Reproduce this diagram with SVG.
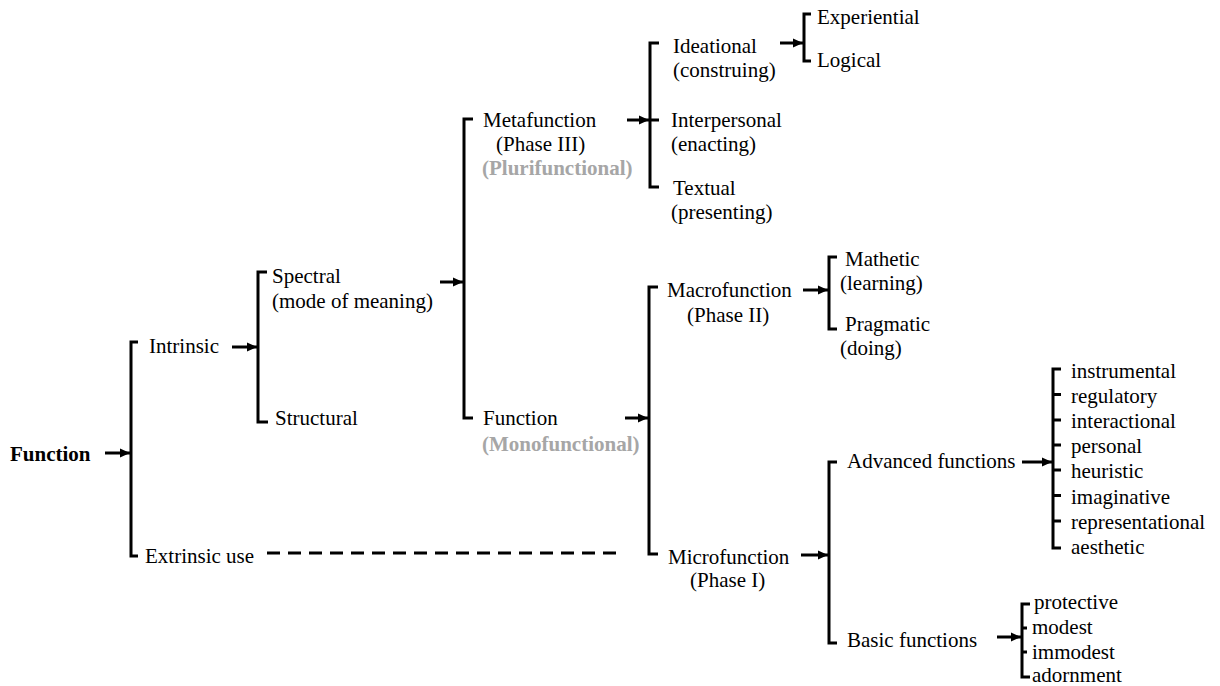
<svg xmlns="http://www.w3.org/2000/svg" width="1220" height="686" viewBox="0 0 1220 686" font-family="'Liberation Serif', 'DejaVu Serif', serif">
  <style>
    text { font-family: 'Liberation Serif', 'DejaVu Serif', serif; font-size: 21px; fill: #000; }
    .bold { font-weight: bold; }
    .gray { fill: #a6a6a6; font-weight: bold; }
    .br { fill: none; stroke: #000; stroke-width: 3; stroke-linejoin: miter; stroke-linecap: butt; }
    .ar { fill: none; stroke: #000; stroke-width: 3; marker-end: url(#head); }
    .dash { fill: none; stroke: #000; stroke-width: 3; stroke-dasharray: 13 8; }
  </style>
  <defs>
    <marker id="head" markerUnits="userSpaceOnUse" markerWidth="12" markerHeight="12" refX="10" refY="6" orient="auto">
      <path d="M0,1.5 L10,6 L0,10.5 Z" fill="#000"/>
    </marker>
  </defs>
  <rect width="1220" height="686" fill="#fff"/>

  <!-- brackets and arrows -->
  <g id="connectors">
    <!-- root -->
    <line class="ar" x1="105" y1="453" x2="130" y2="453"/>
    <path class="br" d="M138,342 H131 V556 H138"/>
    <!-- intrinsic -->
    <line class="ar" x1="232" y1="347" x2="257" y2="347"/>
    <path class="br" d="M267,272 H258 V422 H268"/>
    <!-- spectral -->
    <line class="ar" x1="440" y1="282" x2="463" y2="282"/>
    <path class="br" d="M473,119 H464 V418 H473"/>
    <!-- metafunction -->
    <line class="ar" x1="627" y1="120" x2="649" y2="120"/>
    <path class="br" d="M659,43 H650 V187 H659 M650,120 H659"/>
    <!-- ideational -->
    <line class="ar" x1="780" y1="43" x2="803" y2="43"/>
    <path class="br" d="M811,14 H804 V61 H811"/>
    <!-- function (monofunctional) -->
    <line class="ar" x1="625" y1="418" x2="648" y2="418"/>
    <path class="br" d="M658,287 H649 V554 H658"/>
    <!-- macrofunction -->
    <line class="ar" x1="803" y1="290" x2="828" y2="290"/>
    <path class="br" d="M837,257 H829 V329 H837"/>
    <!-- microfunction -->
    <line class="ar" x1="801" y1="555" x2="828" y2="555"/>
    <path class="br" d="M837,462 H829 V643 H837"/>
    <!-- advanced functions -->
    <line class="ar" x1="1022" y1="462" x2="1052" y2="462"/>
    <path class="br" d="M1061,369 H1053 V548 H1061 M1053,394.5 H1061 M1053,420 H1061 M1053,445 H1061 M1053,470 H1061 M1053,495.5 H1061 M1053,521 H1061"/>
    <!-- basic functions -->
    <line class="ar" x1="997" y1="637" x2="1021" y2="637"/>
    <path class="br" d="M1030,604 H1022 V677 H1030 M1022,628 H1027 M1022,652 H1027"/>
    <!-- extrinsic use link -->
    <line class="dash" x1="267" y1="553" x2="618" y2="553"/>
  </g>

  <g id="function"><text class="bold" x="10" y="461">Function</text></g>
  <g id="intrinsic"><text x="149" y="353">Intrinsic</text></g>
  <g id="extrinsic"><text x="145" y="563">Extrinsic use</text></g>
  <g id="spectral">
    <text x="272" y="283">Spectral</text>
    <text x="272" y="308">(mode of meaning)</text>
  </g>
  <g id="structural"><text x="275" y="425">Structural</text></g>
  <g id="metafunction">
    <text x="483" y="127">Metafunction</text>
    <text x="496" y="151">(Phase III)</text>
    <text class="gray" x="482" y="175">(Plurifunctional)</text>
  </g>
  <g id="function-mono">
    <text x="483" y="425">Function</text>
    <text class="gray" x="482" y="451">(Monofunctional)</text>
  </g>
  <g id="ideational">
    <text x="673" y="53">Ideational</text>
    <text x="673" y="77">(construing)</text>
  </g>
  <g id="interpersonal">
    <text x="671" y="127">Interpersonal</text>
    <text x="671" y="151">(enacting)</text>
  </g>
  <g id="textual">
    <text x="673" y="195">Textual</text>
    <text x="671" y="219">(presenting)</text>
  </g>
  <g id="experiential"><text x="817" y="24">Experiential</text></g>
  <g id="logical"><text x="817" y="67">Logical</text></g>
  <g id="macrofunction">
    <text x="667" y="297">Macrofunction</text>
    <text x="687" y="322">(Phase II)</text>
  </g>
  <g id="mathetic">
    <text x="845" y="266">Mathetic</text>
    <text x="840" y="290">(learning)</text>
  </g>
  <g id="pragmatic">
    <text x="845" y="331">Pragmatic</text>
    <text x="840" y="355">(doing)</text>
  </g>
  <g id="microfunction">
    <text x="668" y="564">Microfunction</text>
    <text x="690" y="587">(Phase I)</text>
  </g>
  <g id="advanced"><text x="847" y="468">Advanced functions</text></g>
  <g id="basic"><text x="847" y="647">Basic functions</text></g>
  <g id="advanced-list">
    <text x="1071" y="378">instrumental</text>
    <text x="1071" y="403">regulatory</text>
    <text x="1071" y="428">interactional</text>
    <text x="1071" y="453">personal</text>
    <text x="1071" y="478">heuristic</text>
    <text x="1071" y="504">imaginative</text>
    <text x="1071" y="529">representational</text>
    <text x="1071" y="554">aesthetic</text>
  </g>
  <g id="basic-list">
    <text x="1034" y="609">protective</text>
    <text x="1032" y="634">modest</text>
    <text x="1032" y="659">immodest</text>
    <text x="1032" y="682">adornment</text>
  </g>
</svg>
